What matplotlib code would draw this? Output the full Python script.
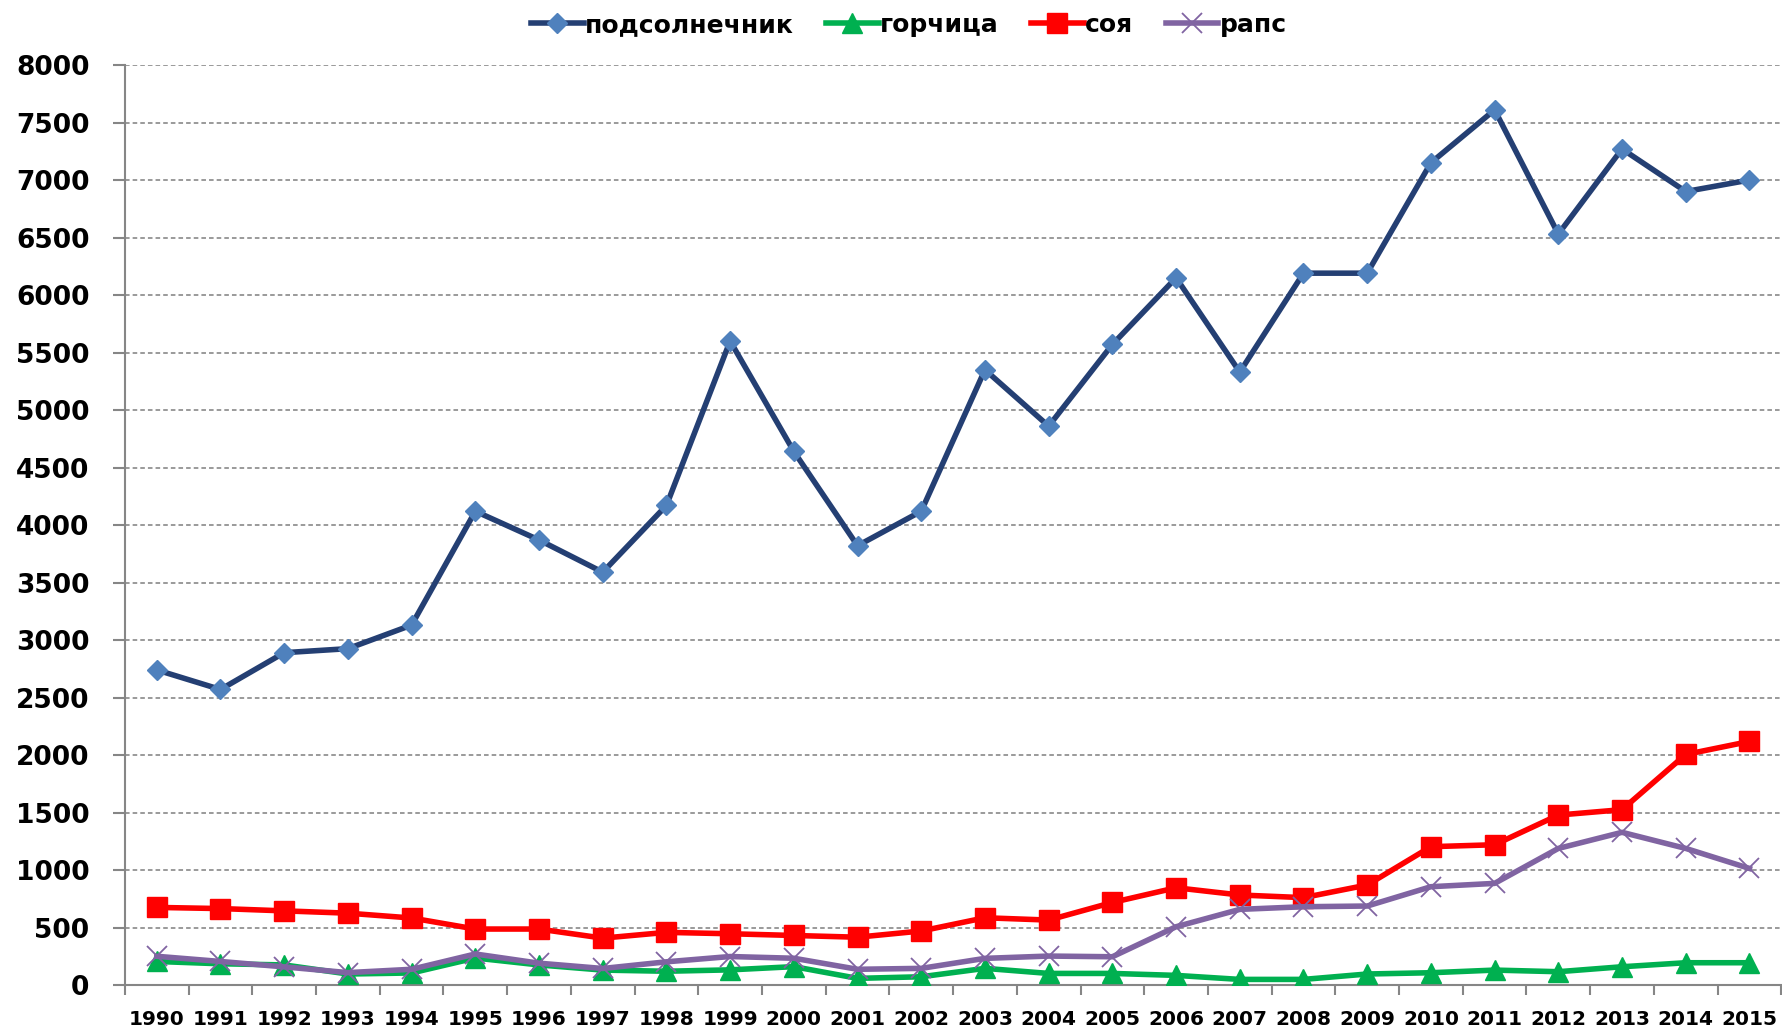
import matplotlib
matplotlib.use('Agg')
import matplotlib.pyplot as plt
import numpy as np

plt.rcParams['font.family'] = ['DejaVu Sans']
plt.rcParams['font.weight'] = 'bold'

years = [str(y) for y in range(1990, 2016)]

podsolnechnik = [2740, 2570, 2890, 2925, 3130, 4120, 3870, 3590, 4170, 5600,
                 4640, 3820, 4120, 5350, 4860, 5570, 6150, 5330, 6190, 6190,
                 7150, 7610, 6530, 7270, 6900, 7000]
gorchitsa = [205, 185, 175, 96, 105, 235, 175, 130, 120, 132,
             160, 58, 72, 145, 101, 101, 84, 49, 49, 96,
             107, 130, 116, 159, 194, 194]
soya = [675, 665, 645, 625, 583, 487, 487, 408, 458, 446,
        431, 416, 470, 585, 565, 718, 846, 783, 760, 870,
        1203, 1220, 1478, 1525, 2005, 2118]
raps = [250, 205, 158, 108, 137, 270, 190, 144, 202, 248,
        233, 137, 145, 232, 252, 246, 507, 658, 681, 687,
        855, 884, 1188, 1328, 1188, 1014]

labels = ['подсолнечник', 'горчица', 'соя', 'рапс']

fig = plt.figure(figsize=(17.82, 10.32), dpi=100)
ax = fig.add_axes([0.0701, 0.0455, 0.9295, 0.8915])

x = np.arange(len(years))

ax.plot(x, podsolnechnik, color='#243F73', lw=4, marker='D', ms=10.5,
        mfc='#4F81BD', mec='#4F81BD', label=labels[0], zorder=5)
ax.plot(x, gorchitsa, color='#00B050', lw=4, marker='^', ms=14,
        mfc='#00B050', mec='#00B050', label=labels[1], zorder=3)
ax.plot(x, soya, color='#FF0000', lw=4, marker='s', ms=14,
        mfc='#FF0000', mec='#FF0000', label=labels[2], zorder=4)
ax.plot(x, raps, color='#8064A2', lw=4, marker='x', ms=14, mew=1.3,
        mec='#8064A2', label=labels[3], zorder=4)

ax.set_xlim(-0.5, len(years) - 0.5)
ax.set_ylim(0, 8000)
ax.set_yticks(np.arange(0, 8001, 500))
ax.set_yticklabels([str(v) for v in range(0, 8001, 500)], fontsize=19, fontweight='bold')

ax.set_xticks(x)
ax.set_xticklabels(years, fontsize=14.5, fontweight='bold')
ax.set_xticks(np.arange(-0.5, len(years)), minor=True)
ax.tick_params(axis='x', which='major', length=0, pad=18)
ax.tick_params(axis='x', which='minor', length=7, width=1.5, color='#868686', direction='out')
ax.tick_params(axis='y', length=8.5, width=1.5, color='#868686', direction='out', pad=17)

ax.yaxis.grid(True, linestyle=(0, (3, 2)), color='#7F7F7F', lw=1.1)
ax.set_axisbelow(True)

for s in ['top', 'right']:
    ax.spines[s].set_visible(False)
for s in ['left', 'bottom']:
    ax.spines[s].set_color('#868686')
    ax.spines[s].set_linewidth(1.5)

leg = fig.legend(loc='center', bbox_to_anchor=(0.51, 0.976), ncol=4, frameon=False,
                 prop={'size': 18, 'weight': 'bold'}, handlelength=2.1,
                 handletextpad=0.05, columnspacing=1.3, borderaxespad=0)

fig.savefig('out.png', dpi=100)
